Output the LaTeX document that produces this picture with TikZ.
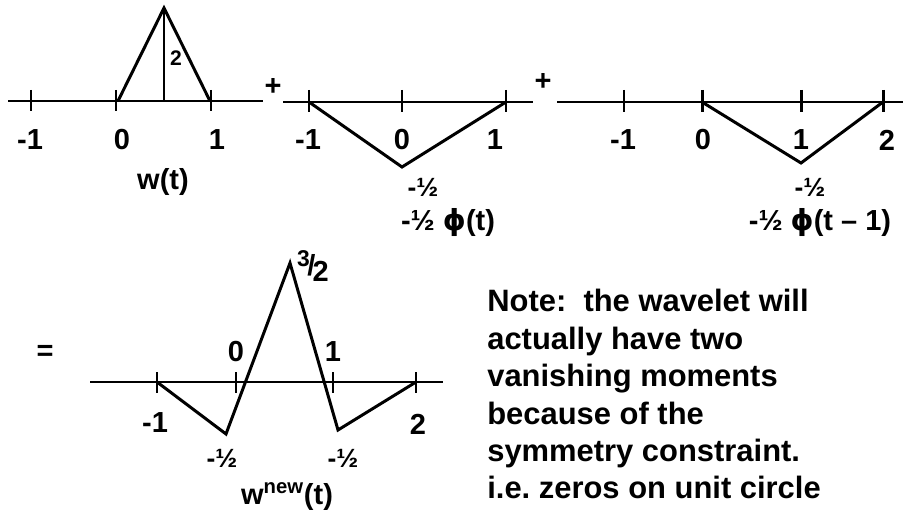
\documentclass[tikz,border=0pt]{standalone}
\usepackage{fontspec}
\setmainfont{Liberation Sans}
\newfontfamily\phifont{DejaVu Sans}
\newcommand{\phis}{{\phifont ϕ}}
\begin{document}
\begin{tikzpicture}[
  x=0.02cm, y=-0.02cm,
  axis/.style={line width=1.7pt},
  tick/.style={line width=1.7pt},
  curve/.style={line width=1.7pt, line join=miter},
  lab/.style={font=\fontsize{16.5}{19}\selectfont\bfseries, inner sep=0pt},
  small/.style={font=\fontsize{12}{14}\selectfont\bfseries, inner sep=0pt},
  half/.style={font=\fontsize{15}{17}\selectfont\bfseries, inner sep=0pt},
  note/.style={font=\fontsize{17.6}{21.3}\selectfont\bfseries, align=left, inner sep=0pt, anchor=north west}
]
\useasboundingbox (0,0) rectangle (903,510);
% w(t)
\draw[axis] (8,101) -- (263,101);
\foreach \x in {31,116,211} \draw[tick] (\x,90) -- (\x,111);
\coordinate (wa) at (118,101);
\coordinate (wtop) at (164,8);
\coordinate (wb) at (210,101);
\coordinate (wmid) at (164,101);
\draw[curve] (wa) -- (wtop) -- (wb);
\draw[curve] (wtop) -- (wmid);
\node[small] (wh) at (176,58) {2};
\node[lab] (wl1) at (30,140) {-1};
\node[lab] (wl2) at (122,140) {0};
\node[lab] (wl3) at (217,140) {1};
\node[lab] (wname) at (163,182) {w(t)};
\node[lab] (plus1) at (273,87) {+};
% -1/2 phi(t)
\draw[axis] (283,102) -- (533,102);
\foreach \x in {309,402,506} \draw[tick] (\x,90) -- (\x,112);
\coordinate (pa) at (309,102);
\coordinate (pbot) at (402,167);
\coordinate (pb) at (506,102);
\draw[curve] (pa) -- (pbot) -- (pb);
\node[lab] (pl1) at (308,140) {-1};
\node[lab] (pl2) at (402,140) {0};
\node[lab] (pl3) at (495,140) {1};
\node[half] (ph) at (423,187) {-½};
\node[lab] (pname) at (448,223) {-½ \phis(t)};
\node[lab] (plus2) at (543,82) {+};
% -1/2 phi(t-1)
\draw[axis] (557,102) -- (903,102);
\foreach \x in {624,702,801,883} \draw[tick] (\x,90) -- (\x,112);
\coordinate (qa) at (702,102);
\coordinate (qbot) at (801,163);
\coordinate (qb) at (883,102);
\draw[curve] (qa) -- (qbot) -- (qb);
\node[lab] (ql1) at (623,140) {-1};
\node[lab] (ql2) at (703,140) {0};
\node[lab] (ql3) at (801,140) {1};
\node[lab] (ql4) at (887,140) {2};
\node[half] (qh) at (810,187) {-½};
\node[lab] (qname) at (820,223) {-½ \phis(t – 1)};
% sum
\node[lab] (eq) at (45,353) {=};
\draw[axis] (90,382) -- (443,382);
\foreach \x in {157,236,333,416} \draw[tick] (\x,372) -- (\x,393);
\coordinate (na) at (157,382);
\coordinate (nlow1) at (226,434);
\coordinate (ntop) at (290,263);
\coordinate (nlow2) at (338,430);
\coordinate (nb) at (416,382);
\draw[curve] (na) -- (nlow1) -- (ntop) -- (nlow2) -- (nb);
\node[lab] (nl1) at (155,423) {-1};
\node[lab] (nl2) at (236,352) {0};
\node[lab] (nl3) at (333,352) {1};
\node[lab] (nl4) at (418,424) {2};
\node[half] (nh1) at (222,458) {-½};
\node[half] (nh2) at (343,458) {-½};
\node[lab] (nh3) at (313,266) {\raisebox{5pt}{\fontsize{13}{15}\selectfont 3}\kern-1.5pt/\kern-1.5pt\raisebox{-3pt}{2}};
\node[lab] (nname) at (287,497) {w\textsuperscript{new}(t)};
% note
\node[note] (txt) at (487,289) {Note:\ \ the wavelet will\\actually have two\\vanishing moments\\because of the\\symmetry constraint.\\i.e.\ zeros on unit circle};
\end{tikzpicture}
\end{document}
